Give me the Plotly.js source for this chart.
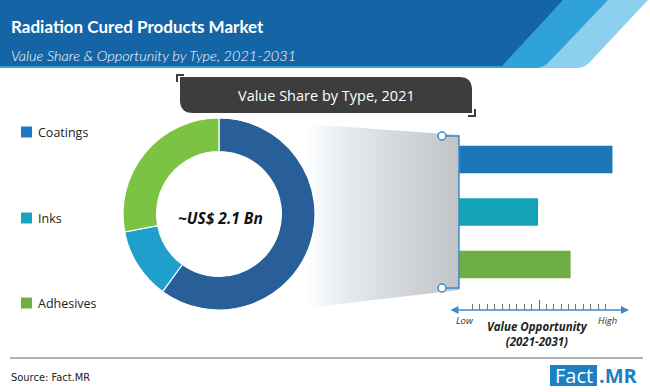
<!DOCTYPE html>
<html>
<head>
<meta charset="utf-8">
<script src="https://cdn.plot.ly/plotly-3.0.1.min.js"></script>
<style>html,body{margin:0;padding:0;background:#fff;}#chart{width:650px;height:392px;}</style>
</head>
<body>
<div id="chart"></div>
<script>
const categories = ['Coatings', 'Inks', 'Adhesives'];
const shareValues = [60, 12, 28];
const opportunityValues = [9.9, 5.1, 7.2];
const donutColors = ['#285f99', '#1f9fcc', '#7cc243'];
const barColors = ['#1a77b9', '#14a3b7', '#6fae45'];
const legendColors = ['#1f78bf', '#17a6c0', '#6db143'];
const scaleLabels = ['Low', 'High'];
const centerLabel = '~US$ 2.1 Bn';
const chartTitle = 'Radiation Cured Products Market';
const chartSubtitle = 'Value Share & Opportunity by Type, 2021-2031';
const boxTitle = 'Value Share by Type, 2021';
const axisTitle = ['Value Opportunity', '(2021-2031)'];
const sourceText = 'Source: Fact.MR';

const W = 650, H = 392;
const legendY = [132, 218, 303];

const traces = [
  {
    type: 'scatter', xaxis: 'x3', yaxis: 'y3', mode: 'lines',
    x: [306, 459, 459, 306], y: [124, 135, 290, 308],
    fill: 'toself', line: {width: 0},
    fillgradient: {type: 'horizontal', start: 306, stop: 459,
      colorscale: [[0, 'rgba(255,255,255,1)'], [0.12, '#f3f5f8'], [0.3, '#e3e8ed'], [1, '#c1c4c7']]},
    hoverinfo: 'skip', showlegend: false
  },
  {
    type: 'bar', orientation: 'h', xaxis: 'x', yaxis: 'y',
    y: categories, x: opportunityValues,
    marker: {color: barColors}, width: 0.52,
    hoverinfo: 'x+y', showlegend: false
  },
  {
    type: 'scatter', xaxis: 'x2', yaxis: 'y2', mode: 'none',
    x: [0, 20], y: [0, 0], hoverinfo: 'skip', showlegend: false
  },
  {
    type: 'pie', labels: categories, values: shareValues,
    hole: 0.65, sort: false, direction: 'clockwise', rotation: 0,
    marker: {colors: donutColors, line: {color: '#ffffff', width: 1.2}},
    textinfo: 'none', showlegend: false,
    domain: {x: [(219 - 96) / W, (219 + 96) / W], y: [(H - 214 - 96) / H, (H - 214 + 96) / H]}
  }
];

const shapes = [
  // header
  {type: 'path', xref: 'x3', yref: 'y3', path: 'M0,0 L648,0 L589,63 Q584,68 576,68 L0,68 Z', fillcolor: '#8dcfee', line: {width: 0}, layer: 'below'},
  {type: 'path', xref: 'x3', yref: 'y3', path: 'M0,0 L608,0 L548,63 Q543,68 535,68 L0,68 Z', fillcolor: '#2fa2d9', line: {width: 0}, layer: 'below'},
  {type: 'path', xref: 'x3', yref: 'y3', path: 'M0,0 L563,0 L502,66 L0,66 Z', fillcolor: '#1565a6', line: {width: 0}, layer: 'below'},
  // title box
  {type: 'path', xref: 'x3', yref: 'y3', path: 'M180,77 L459,77 Q472,77 472,90 L472,113 L193,113 Q180,113 180,100 Z', fillcolor: '#3d3d3d', line: {width: 0}},
  {type: 'path', xref: 'x3', yref: 'y3', path: 'M177,82 L177,75 L184,75', line: {color: '#3d3d3d', width: 2}},
  {type: 'path', xref: 'x3', yref: 'y3', path: 'M468,116 L475,116 L475,109', line: {color: '#3d3d3d', width: 2}},
  // bracket
  {type: 'path', xref: 'x3', yref: 'y3', path: 'M446,136 L459,136 L459,288 L446,288', line: {color: '#3b8bcb', width: 1.5}},
  {type: 'circle', xref: 'x3', yref: 'y3', x0: 438, x1: 446, y0: 132, y1: 140, fillcolor: '#ffffff', line: {color: '#3b8bcb', width: 1.5}},
  {type: 'circle', xref: 'x3', yref: 'y3', x0: 438, x1: 446, y0: 284, y1: 292, fillcolor: '#ffffff', line: {color: '#3b8bcb', width: 1.5}},
  // footer
  {type: 'line', xref: 'x3', yref: 'y3', x0: 10, x1: 643, y0: 358, y1: 358, line: {color: '#9a9a9a', width: 1.5}},
  {type: 'rect', xref: 'x3', yref: 'y3', x0: 550, x1: 597, y0: 365, y1: 386, fillcolor: '#1b80c4', line: {width: 0}}
];

categories.forEach((c, i) => {
  shapes.push({type: 'rect', xref: 'x3', yref: 'y3', x0: 21, x1: 32, y0: legendY[i] - 5.5, y1: legendY[i] + 5.5,
    fillcolor: legendColors[i], line: {width: 0}});
});

const ann = (text, x, y, opts) => Object.assign({text: text, x: x, y: y, xref: 'x3', yref: 'y3', showarrow: false,
  xanchor: 'left', yanchor: 'middle'}, opts || {});

const annotations = [
  ann('<b>' + chartTitle + '</b>', 9, 26, {font: {family: 'Lato', size: 17, color: '#ffffff'}}),
  ann('<i>' + chartSubtitle + '</i>', 9, 55, {font: {family: 'Lato', size: 14.5, color: '#ffffff', weight: 300}}),
  ann(boxTitle, 326, 95, {xanchor: 'center', font: {family: 'Open Sans', size: 14.5, color: '#ffffff'}}),
  ann('<b><i>' + centerLabel + '</i></b>', 220, 218, {xanchor: 'center', font: {family: 'Open Sans', size: 15.5, color: '#111111'}}),
  ann('<i>' + scaleLabels[0] + '</i>', 465, 320, {xanchor: 'center', font: {family: 'Open Sans', size: 9.5, color: '#333333'}}),
  ann('<i>' + scaleLabels[1] + '</i>', 607, 320, {xanchor: 'center', font: {family: 'Open Sans', size: 9.5, color: '#333333'}}),
  ann('<b><i>' + axisTitle[0] + '<br>' + axisTitle[1] + '</i></b>', 537, 334, {xanchor: 'center', font: {family: 'Open Sans', size: 11.5, color: '#222222'}}),
  ann(sourceText, 9, 377, {font: {family: 'DejaVu Sans Condensed, DejaVu Sans', size: 11, color: '#222222', stretch: 'condensed'}}),
  ann('Fact', 573.5, 375.5, {xanchor: 'center', font: {family: 'Open Sans', size: 20, color: '#ffffff'}}),
  ann('<b>.MR</b>', 597, 375.5, {font: {family: 'Open Sans', size: 20, color: '#1b80c4'}}),
  {x: 629, y: 310, ax: 449, ay: 310, xref: 'x3', yref: 'y3', axref: 'x3', ayref: 'y3', text: '',
    showarrow: true, arrowhead: 2, startarrowhead: 2, arrowside: 'end+start', arrowsize: 1, arrowwidth: 1.6, arrowcolor: '#3b8bcb'}
];

categories.forEach((c, i) => {
  annotations.push(ann(c, 36, legendY[i], {font: {family: 'Open Sans', size: 12.5, color: '#222222'}}));
});

const hidden = {visible: false, fixedrange: true, showgrid: false, zeroline: false};
const barBottom = 290.75, barTop = 133.25;

const layout = {
  width: W, height: H,
  margin: {l: 0, r: 0, t: 0, b: 0, pad: 0},
  paper_bgcolor: '#ffffff', plot_bgcolor: 'rgba(0,0,0,0)',
  showlegend: false,
  xaxis: Object.assign({}, hidden, {domain: [459 / W, 614 / W], range: [0, 10], anchor: 'y'}),
  yaxis: Object.assign({}, hidden, {domain: [(H - barBottom) / H, (H - barTop) / H], autorange: 'reversed', type: 'category', anchor: 'x'}),
  xaxis2: {domain: [465 / W, 613 / W], range: [-0.02, 20.02], anchor: 'y2', showline: false, showgrid: false, zeroline: false,
    ticks: 'inside', ticklen: 10, tickwidth: 1, tickcolor: '#666666', tick0: 0, dtick: 10, showticklabels: false, fixedrange: true,
    minor: {ticks: 'inside', ticklen: 6, tickwidth: 1, tickcolor: '#777777', dtick: 1, showgrid: false}},
  yaxis2: Object.assign({}, hidden, {domain: [(H - 310) / H, (H - 300) / H], range: [0, 1], anchor: 'x2'}),
  xaxis3: Object.assign({}, hidden, {domain: [0, 1], range: [0, W], anchor: 'y3'}),
  yaxis3: Object.assign({}, hidden, {domain: [0, 1], range: [H, 0], anchor: 'x3'}),
  shapes: shapes,
  annotations: annotations
};

Plotly.newPlot('chart', traces, layout, {displayModeBar: false, staticPlot: true});
</script>
</body>
</html>
